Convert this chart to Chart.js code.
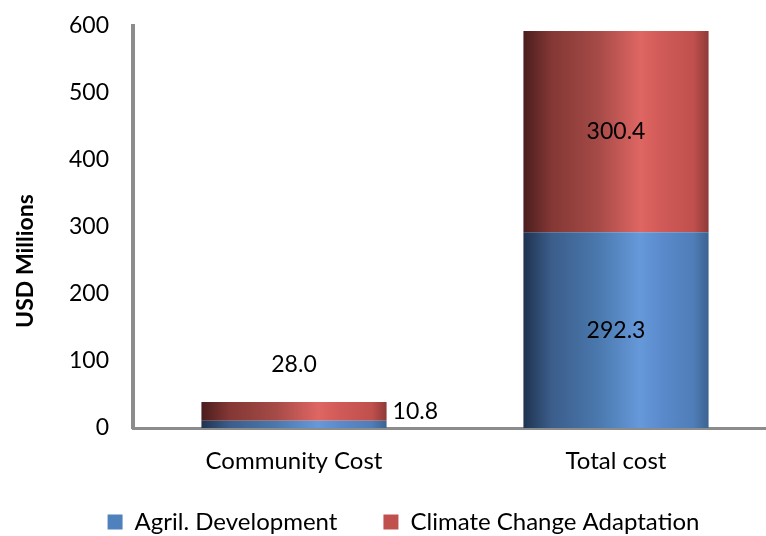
<!DOCTYPE html>
<html lang="en">
  <head>
    <meta charset="utf-8" />
    <title>USD Millions</title>
    <style>
      * {
        margin: 0;
        padding: 0;
      }
      body {
        background: white;
        overflow: hidden;
        width: 766px;
        height: 536px;
      }
      .chartBox {
        width: 777px;
        height: 536px;
      }
    </style>
  </head>
  <body>
    <div class="chartBox">
      <canvas id="myChart"></canvas>
    </div>
    <script src="https://cdn.jsdelivr.net/npm/chart.js"></script>
    <script>
      // data
      const categories = ["Community Cost", "Total cost"];
      const agrilDevelopment = [10.8, 292.3];
      const climateAdaptation = [28.0, 300.4];
      const yTicks = [0, 100, 200, 300, 400, 500, 600];
      const yTitle = "USD Millions";

      const FONT = "Lato, 'Open Sans', sans-serif";

      // colour stops for the cylinder-like shading
      const blueStops = ["#1f3350", "#3b5d8a", "#4a78ad", "#6699da", "#5a8acb", "#4f7db8", "#3c6390"];
      const redStops = ["#4a1d1d", "#833734", "#a54a47", "#de6663", "#d05a57", "#c0504d", "#8d3a38"];
      const stopPos = [0, 0.15, 0.4, 0.63, 0.75, 0.92, 1];

      const BAR_PCT = 0.575;

      function shade(stops) {
        return function (context) {
          const chart = context.chart;
          const xScale = chart.scales.x;
          if (!chart.chartArea || !xScale || context.dataIndex === undefined) {
            return stops[5];
          }
          const cx = xScale.getPixelForValue(context.dataIndex);
          const w = (xScale.width / categories.length) * BAR_PCT;
          const g = chart.ctx.createLinearGradient(cx - w / 2, 0, cx + w / 2, 0);
          stops.forEach((c, i) => g.addColorStop(stopPos[i], c));
          return g;
        };
      }

      // value labels, moved by hand like the original
      const valueLabels = {
        id: "valueLabels",
        afterDatasetsDraw(chart, args, opts) {
          const ctx = chart.ctx;
          ctx.save();
          ctx.font = "23px " + FONT;
          ctx.fillStyle = "#000";
          ctx.textBaseline = "middle";
          chart.data.datasets.forEach((ds, di) => {
            const meta = chart.getDatasetMeta(di);
            meta.data.forEach((el, i) => {
              const shift = opts.shift[di][i];
              const text = ds.data[i].toFixed(1);
              if (shift.side === "right") {
                ctx.textAlign = "left";
                ctx.fillText(text, el.x + el.width / 2 + shift.dx, el.y + shift.dy);
              } else {
                ctx.textAlign = "center";
                ctx.fillText(text, el.x + shift.dx, (el.y + el.base) / 2 + shift.dy);
              }
            });
          });
          ctx.restore();
        },
      };

      // y axis title sits lower than the axis middle in the original
      const sideTitle = {
        id: "sideTitle",
        afterDraw(chart, args, opts) {
          const ctx = chart.ctx;
          ctx.save();
          ctx.translate(opts.x, opts.y);
          ctx.rotate(-Math.PI / 2);
          ctx.font = "bold 23px " + FONT;
          ctx.fillStyle = "#000";
          ctx.textAlign = "center";
          ctx.textBaseline = "middle";
          ctx.fillText(yTitle, 0, 0);
          ctx.restore();
        },
      };

      // legend sits a bit right of centre and its row is placed by hand
      const legendNudge = {
        id: "legendNudge",
        afterLayout(chart, args, opts) {
          const lg = chart.legend;
          if (!lg) return;
          const pad = lg.options.labels.padding;
          lg.left += opts.dx;
          lg.right += opts.dx;
          lg.top = opts.textY - 12 - pad;
          lg.bottom = opts.textY + 20;
        },
      };

      const data = {
        labels: categories,
        datasets: [
          {
            label: "Agril. Development",
            data: agrilDevelopment,
            backgroundColor: shade(blueStops),
            legendColor: "#4f81bd",
            barPercentage: BAR_PCT,
            categoryPercentage: 1,
          },
          {
            label: "Climate Change Adaptation",
            data: climateAdaptation,
            backgroundColor: shade(redStops),
            legendColor: "#c0504d",
            barPercentage: BAR_PCT,
            categoryPercentage: 1,
          },
        ],
      };

      const config = {
        type: "bar",
        data,
        plugins: [valueLabels, legendNudge, sideTitle],
        options: {
          responsive: true,
          maintainAspectRatio: false,
          animation: false,
          layout: {
            padding: { top: 0, right: 0, bottom: 0, left: 0 },
          },
          scales: {
            x: {
              stacked: true,
              grid: { display: false, drawTicks: false },
              border: { display: true, color: "#8c8c8c", width: 3 },
              ticks: {
                color: "#000",
                font: { family: FONT, size: 24 },
                padding: 19,
              },
              afterFit(scale) {
                scale.height = 72;
              },
            },
            y: {
              stacked: true,
              min: yTicks[0],
              max: yTicks[yTicks.length - 1],
              afterBuildTicks(scale) {
                scale.ticks = yTicks.map((v) => ({ value: v }));
              },
              grid: { display: false, drawTicks: false },
              border: { display: true, color: "#8c8c8c", width: 4 },
              ticks: {
                color: "#000",
                font: { family: FONT, size: 23 },
                padding: 24,
              },
              afterFit(scale) {
                scale.width = 133;
                scale.paddingTop = 26;
                scale.paddingBottom = 0;
              },
            },
          },
          plugins: {
            tooltip: { enabled: false },
            legendNudge: { dx: 15, textY: 522 },
            sideTitle: { x: 26, y: 261 },
            valueLabels: {
              shift: [
                [
                  { side: "right", dx: 6, dy: -9 },
                  { side: "center", dx: 0, dy: 0 },
                ],
                [
                  { side: "center", dx: 0, dy: -47 },
                  { side: "center", dx: 0, dy: 0 },
                ],
              ],
            },
            legend: {
              position: "bottom",
              align: "center",
              maxHeight: 36,
              labels: {
                color: "#000",
                font: { family: FONT, size: 24 },
                boxWidth: 15,
                boxHeight: 15,
                padding: 46,
                generateLabels(chart) {
                  return chart.data.datasets.map((ds, i) => ({
                    text: ds.label,
                    fillStyle: ds.legendColor,
                    strokeStyle: ds.legendColor,
                    lineWidth: 0,
                    datasetIndex: i,
                  }));
                },
              },
            },
          },
        },
      };

      const myChart = new Chart(document.getElementById("myChart"), config);
    </script>
  </body>
</html>
